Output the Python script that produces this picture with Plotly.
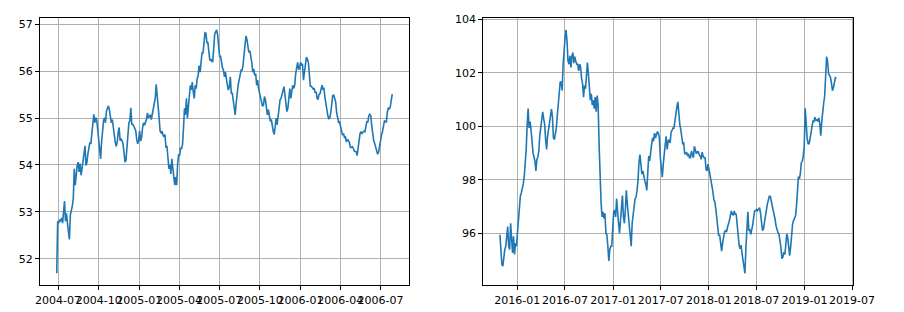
import pandas as pd
import plotly.graph_objects as go

# ---------------- data (one per ~pixel column) ----------------
left_start = "2004-06-28"   # one reading every 53 hours
left_values = [
    51.69, 52.80, 52.76, 52.83, 52.80, 52.87, 52.76, 53.01, 53.23, 52.80,
    52.97, 52.76, 52.52, 52.41, 52.94, 53.01, 53.12, 53.29, 53.92, 53.57,
    53.89, 53.99, 54.06, 53.85, 54.03, 53.78, 53.92, 54.10, 54.27, 54.41,
    53.99, 54.06, 54.24, 54.38, 54.48, 54.45, 54.69, 54.90, 55.08, 54.90,
    55.01, 54.97, 54.73, 54.48, 54.31, 54.13, 54.48, 54.73, 54.94, 55.01,
    54.90, 55.15, 55.19, 55.26, 55.18, 55.01, 54.90, 54.97, 54.76, 54.59,
    54.49, 54.40, 54.48, 54.69, 54.80, 54.52, 54.55, 54.52, 54.45, 54.27,
    54.06, 54.10, 54.38, 54.66, 54.90, 54.94, 55.22, 54.87, 54.87, 54.83,
    54.77, 54.73, 54.55, 54.45, 54.52, 54.73,
    54.51, 54.58, 54.79, 54.90, 54.85, 54.92, 54.97, 55.11, 55.00, 55.04,
    55.07, 54.97, 55.07, 55.18, 55.30, 55.42, 55.72, 55.35, 55.25, 55.00,
    54.72, 54.69, 54.72, 54.64, 54.60, 54.65, 54.37, 54.41, 54.16, 53.92,
    54.01, 53.81, 54.13, 53.88, 53.74, 53.57, 53.74, 53.57, 54.02, 54.23,
    54.20, 54.37, 54.34, 54.44, 54.79, 55.21, 55.07, 55.42, 55.00, 55.21,
    55.42, 55.70, 55.60, 55.77, 55.56, 55.42, 55.70, 55.63, 55.84, 55.91,
    56.12, 55.98, 56.19, 56.40, 56.38, 56.58, 56.82, 56.81, 56.61, 56.61,
    56.40, 56.23, 56.26, 56.21, 56.21, 56.47, 56.79, 56.84, 56.88, 56.77,
    56.54, 56.32, 56.32, 56.18, 56.07, 56.02, 55.88,
    55.98, 55.77, 55.70, 55.60, 55.67, 55.88, 55.53, 55.53, 55.35, 55.18,
    55.07, 55.32, 55.56, 55.70, 55.81, 55.91, 56.02, 56.02, 56.12, 56.33,
    56.61, 56.75, 56.68, 56.47, 56.40, 56.44, 56.33, 56.19, 55.98, 56.05,
    55.91, 55.95, 55.70, 55.81, 55.63, 55.53, 55.42, 55.35, 55.25, 55.28,
    55.46, 55.39, 55.21, 55.07, 55.18, 55.00, 54.93, 54.97, 54.79, 54.72,
    54.65, 54.86, 55.00, 54.86, 55.07, 55.28, 55.39, 55.42, 55.53, 55.63,
    55.67, 55.49, 55.28, 55.14, 55.21, 55.42, 55.63, 55.42, 55.63, 55.70,
    55.63, 55.70, 55.95, 56.12, 56.19, 56.05, 56.05, 56.19, 56.12, 56.16,
    55.81, 55.98, 56.23, 56.30, 56.26, 56.19,
    55.94, 55.68, 55.68, 55.66, 55.62, 55.63, 55.54, 55.56, 55.42, 55.40,
    55.51, 55.52, 55.64, 55.70, 55.62, 55.63, 55.44, 55.30, 55.14, 55.05,
    54.99, 55.00, 55.12, 55.28, 55.48, 55.49, 55.42, 55.35, 55.12, 54.97,
    54.91, 54.92, 54.84, 54.74, 54.64, 54.67, 54.59, 54.60, 54.49, 54.55,
    54.50, 54.49, 54.38, 54.37, 54.39, 54.36, 54.30, 54.29, 54.28, 54.20,
    54.41, 54.58, 54.67, 54.71, 54.67, 54.70, 54.72, 54.71, 54.87, 54.93,
    54.91, 55.05, 55.08, 55.05, 54.84, 54.64, 54.52, 54.46, 54.39, 54.28,
    54.23, 54.27, 54.41, 54.57, 54.64, 54.71, 54.83, 54.94, 54.93, 54.91,
    55.13, 55.22, 55.19, 55.24, 55.38, 55.51,
]

right_start = "2015-10-27"  # one reading every 89 hours
right_values = [
    95.94, 95.39, 94.83, 94.77, 95.26, 95.39, 95.51, 95.82, 96.25, 95.51,
    95.39, 96.37, 95.63, 95.26, 95.88, 95.20, 95.63, 95.51, 96.00, 96.49,
    96.92, 97.39, 97.51, 97.66, 97.84, 98.11, 98.52, 99.13, 100.05, 100.66,
    99.93, 100.17, 99.87, 99.37, 99.01, 98.85, 98.70, 98.33, 98.76, 98.85,
    99.07, 99.66, 99.93, 100.39, 100.54, 100.27, 100.07, 99.50, 99.13, 99.62,
    99.87, 100.29, 100.52, 100.64, 100.36, 99.58, 99.50, 99.71, 99.93, 100.39,
    100.79, 101.34, 101.67, 101.64, 101.34, 102.32, 102.93, 103.30, 103.60, 103.18,
    102.44, 102.32, 102.63, 102.20, 102.63, 102.75, 102.36, 102.60, 102.44, 102.32,
    102.32, 102.07, 102.32, 102.20, 101.79, 101.58,
    101.09, 101.52, 101.40, 101.89, 102.38, 101.95, 101.52, 100.97, 101.21, 100.79,
    100.97, 100.66, 101.09, 100.54, 101.15, 100.79, 99.31, 97.90, 97.17, 96.61,
    96.80, 96.55, 96.74, 96.00, 95.94, 95.51, 94.96, 95.39, 95.51, 95.51,
    96.37, 96.80, 96.86, 96.61, 97.29, 96.61, 96.37, 96.00, 96.61, 96.86,
    97.41, 96.61, 96.37, 96.86, 97.60, 97.10, 96.61, 96.25, 95.63, 95.51,
    96.37, 96.61, 96.98, 97.29, 97.35, 97.60, 97.96, 98.64, 98.94, 98.58,
    98.21, 98.33, 98.09, 97.96, 97.84, 97.60, 98.21, 98.88, 98.70, 99.13,
    99.31, 99.56, 99.44, 99.74, 99.56, 99.68, 99.80, 99.74, 99.56, 98.82,
    98.33, 98.09, 98.58, 99.07, 99.31, 99.62,
    99.13, 99.44, 99.50, 99.37, 99.77, 99.84, 99.93, 99.93, 100.27, 100.44,
    100.72, 100.91, 100.42, 100.07, 99.87, 99.50, 99.35, 99.37, 98.97, 98.97,
    99.03, 98.88, 98.97, 98.82, 98.82, 99.07, 98.88, 98.82, 99.25, 99.07,
    98.97, 99.04, 99.04, 98.94, 98.88, 98.76, 99.03, 98.88, 98.82, 98.82,
    98.39, 98.33, 98.58, 98.39, 98.21, 98.00, 97.84, 97.56, 97.26, 97.17,
    96.92, 96.49, 96.00, 95.90, 95.94, 95.55, 95.33, 95.63, 95.84, 96.06,
    96.09, 96.04, 96.21, 96.31, 96.47, 96.65, 96.83, 96.71, 96.67, 96.83,
    96.71, 96.71, 96.31, 95.85, 95.55, 95.42, 95.55, 95.24, 94.98, 94.72,
    94.50, 95.45, 96.31, 96.80, 96.09, 96.12, 95.96,
    96.10, 96.31, 96.59, 96.84, 96.84, 96.89, 96.84, 96.92, 96.95, 96.76,
    96.34, 96.10, 96.15, 96.34, 96.59, 96.84, 97.08, 97.25, 97.38, 97.38,
    97.23, 97.08, 96.89, 96.71, 96.52, 96.27, 96.10, 96.02, 95.96, 95.78,
    95.48, 95.05, 95.10, 95.29, 95.20, 95.54, 95.98, 95.84, 95.45, 95.16,
    95.48, 96.02, 96.34, 96.47, 96.53, 96.64, 97.01, 97.75, 98.12, 98.03,
    98.24, 98.64, 98.68, 98.89, 99.26, 100.67, 99.81, 99.54, 99.35, 99.35,
    99.54, 99.79, 99.96, 100.21, 100.18, 100.34, 100.22, 100.24, 100.18, 100.31,
    100.10, 99.65, 100.18, 100.67, 100.86, 101.13, 101.90, 102.60, 102.43, 101.97,
    101.90, 101.82, 101.60, 101.33, 101.44, 101.74, 101.81, 101.78,
]

left_dates = pd.date_range(left_start, periods=len(left_values), freq=pd.Timedelta(hours=53))
right_dates = pd.date_range(right_start, periods=len(right_values), freq=pd.Timedelta(hours=89))

# ---------------- figure ----------------
W, H = 904, 312
LINE = "#1f77b4"
FONT = dict(family="DejaVu Sans", size=11, color="black")


def pad_range(lo, hi, frac=0.05):
    span = hi - lo
    return [lo - frac * span, hi + frac * span]


def date_range_pad(dates, frac=0.05):
    lo, hi = dates.min(), dates.max()
    span = hi - lo
    return [(lo - frac * span).strftime("%Y-%m-%d %H:%M"),
            (hi + frac * span).strftime("%Y-%m-%d %H:%M")]


fig = go.Figure()
fig.add_trace(go.Scatter(x=left_dates, y=left_values, mode="lines",
                         line=dict(color=LINE, width=1.6), xaxis="x", yaxis="y",
                         showlegend=False))
fig.add_trace(go.Scatter(x=right_dates, y=right_values, mode="lines",
                         line=dict(color=LINE, width=1.6), xaxis="x2", yaxis="y2",
                         showlegend=False))

axis_common = dict(showline=True, linecolor="black", linewidth=0.9, mirror=True,
                   showgrid=True, gridcolor="#b0b0b0", gridwidth=0.8,
                   zeroline=False, ticks="outside", ticklen=4, tickwidth=0.9,
                   tickcolor="black", tickfont=FONT)

y_dom = [1 - 285 / H, 1 - 13 / H]

fig.update_layout(
    width=W, height=H,
    margin=dict(l=0, r=0, t=0, b=0),
    paper_bgcolor="white", plot_bgcolor="white",
    xaxis=dict(domain=[37 / W, 417 / W], type="date",
               range=date_range_pad(left_dates),
               tick0="2004-07-01", dtick="M3", tickformat="%Y-%m", tickangle=0,
               anchor="y", **axis_common),
    yaxis=dict(domain=y_dom, range=pad_range(min(left_values), max(left_values)),
               dtick=1, anchor="x", **axis_common),
    xaxis2=dict(domain=[493.3 / W, 874.3 / W], type="date",
                range=date_range_pad(right_dates),
                tick0="2016-01-01", dtick="M6", tickformat="%Y-%m", tickangle=0,
                anchor="y2", **axis_common),
    yaxis2=dict(domain=y_dom, range=pad_range(min(right_values), max(right_values)),
                dtick=2, anchor="x2", **axis_common),
)

fig.write_html("out.html")
